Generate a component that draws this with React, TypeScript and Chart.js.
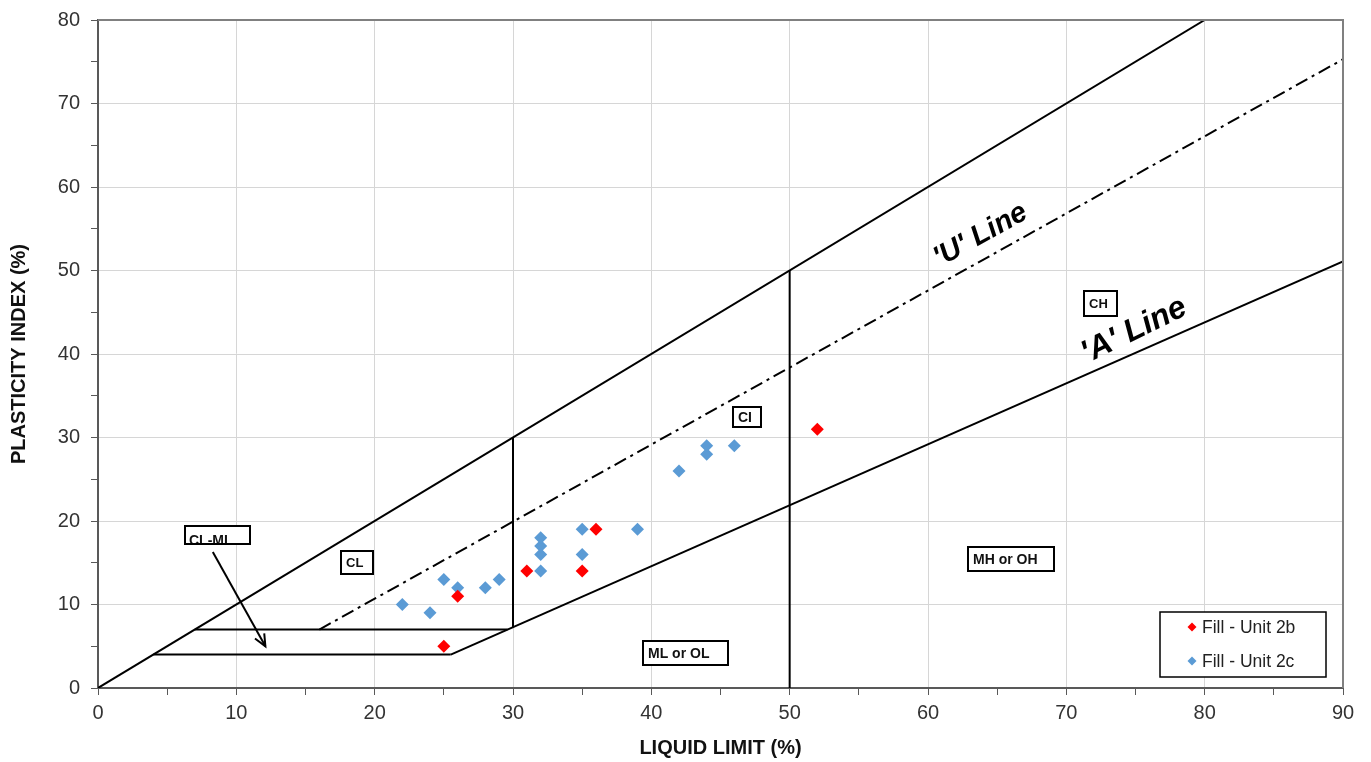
import React, { useEffect, useRef } from "react";
import { Chart, registerables } from "chart.js";

Chart.register(...registerables);

// ---- data ----
const unit2bLL = [25, 26, 31, 35, 36, 52];
const unit2bPI = [5, 11, 14, 14, 19, 31];
const unit2cLL = [22, 24, 25, 26, 28, 29, 32, 32, 32, 32, 35, 35, 39, 42, 44, 44, 46];
const unit2cPI = [10, 9, 13, 12, 12, 13, 14, 16, 17, 18, 16, 19, 19, 26, 28, 29, 29];

const upperLine = [[0, 0], [80, 80]];
const uLine = [[16, 7], [90, 75.3]];
const aLine = [[25.5, 4], [90, 51.1]];
const pi4Line = [[4, 4], [25.5, 4]];
const pi7Line = [[7, 7], [29.6, 7]];
const ll30Line = [[30, 7.3], [30, 30]];
const ll50Line = [[50, 0], [50, 50]];
const arrowLine = [[8.3, 16.3], [12.1, 5.0]];

const xTickLabels = [0, 10, 20, 30, 40, 50, 60, 70, 80, 90];
const yTickLabels = [0, 10, 20, 30, 40, 50, 60, 70, 80];

const zoneNames = ["CL-ML", "CL", "CI", "CH", "MH or OH", "ML or OL"];
const zoneLL = [6.3, 17.6, 45.9, 71.3, 62.9, 39.4];
const zonePI = [19.4, 16.4, 33.6, 47.5, 16.9, 5.6];

const lineNames = ["'U' Line", "'A' Line"];
const lineNameLL = [63.8, 74.9];
const lineNamePI = [54.2, 42.8];

const seriesNames = ["Fill - Unit 2b", "Fill - Unit 2c"];

// ---- styles ----
const RED = "#ff0000";
const BLUE = "#5b9bd5";
const FONT = '"Liberation Sans", Arial, sans-serif';
const zoneBox = [
  { w: 65, h: 18, size: 14, clipBottom: true },
  { w: 32, h: 23, size: 13 },
  { w: 28, h: 20, size: 14 },
  { w: 33, h: 25, size: 13 },
  { w: 86, h: 24, size: 14 },
  { w: 85, h: 24, size: 14 },
];

const toXY = (pts: number[][]) => pts.map(([x, y]) => ({ x, y }));

const lineDs = (pts: number[][], dash?: number[]) => ({
  type: "scatter" as const,
  data: toXY(pts),
  showLine: true,
  borderColor: "#000",
  borderWidth: 2,
  borderDash: dash || [],
  pointRadius: 0,
  pointHoverRadius: 0,
  fill: false,
  tension: 0,
  order: 2,
});

const overlayPlugin = {
  id: "overlay",
  afterDatasetsDraw(chart: any) {
    const { ctx, chartArea: ca, scales } = chart;
    const xs = scales.x;
    const ys = scales.y;
    const px = (v: number) => xs.getPixelForValue(v);
    const py = (v: number) => ys.getPixelForValue(v);
    ctx.save();

    // frame top/right
    ctx.strokeStyle = "#808080";
    ctx.lineWidth = 2;
    ctx.beginPath();
    ctx.moveTo(ca.left, ca.top);
    ctx.lineTo(ca.right, ca.top);
    ctx.lineTo(ca.right, ca.bottom);
    ctx.stroke();

    // arrowhead
    const ax0 = px(arrowLine[0][0]), ay0 = py(arrowLine[0][1]);
    const ax1 = px(arrowLine[1][0]), ay1 = py(arrowLine[1][1]);
    const ang = Math.atan2(ay1 - ay0, ax1 - ax0);
    const hl = 13, spread = 0.42;
    ctx.strokeStyle = "#000";
    ctx.lineWidth = 2;
    ctx.beginPath();
    ctx.moveTo(ax1 - hl * Math.cos(ang - spread), ay1 - hl * Math.sin(ang - spread));
    ctx.lineTo(ax1, ay1);
    ctx.lineTo(ax1 - hl * Math.cos(ang + spread), ay1 - hl * Math.sin(ang + spread));
    ctx.stroke();

    // zone label boxes
    zoneNames.forEach((name, i) => {
      const b = zoneBox[i];
      const bx = Math.round(px(zoneLL[i]));
      const by = Math.round(py(zonePI[i]));
      ctx.fillStyle = "#fff";
      ctx.fillRect(bx, by, b.w, b.h);
      ctx.fillStyle = "#111";
      ctx.font = `bold ${b.size}px ${FONT}`;
      ctx.textAlign = "left";
      if (b.clipBottom) {
        ctx.textBaseline = "alphabetic";
        ctx.fillText(name, bx + 4, by + b.h + 1);
      } else {
        ctx.textBaseline = "middle";
        ctx.fillText(name, bx + 5, by + b.h / 2 + 1);
      }
      ctx.strokeStyle = "#000";
      ctx.lineWidth = 2;
      ctx.strokeRect(bx, by, b.w, b.h);
    });

    // rotated line names
    const refs = [uLine, aLine];
    lineNames.forEach((name, i) => {
      const r = refs[i];
      const a = Math.atan2(py(r[1][1]) - py(r[0][1]), px(r[1][0]) - px(r[0][0]));
      ctx.save();
      ctx.translate(px(lineNameLL[i]), py(lineNamePI[i]));
      ctx.rotate(a - (i === 1 ? 0.04 : 0));
      ctx.font = `italic bold ${i === 0 ? 29 : 32}px ${FONT}`;
      ctx.fillStyle = "#000";
      ctx.textAlign = "center";
      ctx.textBaseline = "middle";
      ctx.fillText(name, 0, 0);
      ctx.restore();
    });

    // legend
    const lw = 166, lh = 65;
    const lx = ca.right - 17 - lw;
    const ly = ca.bottom - 11 - lh;
    ctx.fillStyle = "#fff";
    ctx.fillRect(lx, ly, lw, lh);
    ctx.strokeStyle = "#000";
    ctx.lineWidth = 1.5;
    ctx.strokeRect(lx, ly, lw, lh);
    const colors = [RED, BLUE];
    seriesNames.forEach((name, i) => {
      const cy = ly + 15 + i * 34;
      const cx = lx + 32;
      const r = 4.5;
      ctx.fillStyle = colors[i];
      ctx.beginPath();
      ctx.moveTo(cx - r, cy);
      ctx.lineTo(cx, cy - r);
      ctx.lineTo(cx + r, cy);
      ctx.lineTo(cx, cy + r);
      ctx.closePath();
      ctx.fill();
      ctx.fillStyle = "#222";
      ctx.font = `17.5px ${FONT}`;
      ctx.textAlign = "left";
      ctx.textBaseline = "middle";
      ctx.fillText(name, cx + 10, cy + 1);
    });

    ctx.restore();
  },
};

export default function App() {
  const ref = useRef<HTMLCanvasElement | null>(null);

  useEffect(() => {
    if (!ref.current) return;
    Chart.defaults.font.family = FONT;
    const gridColor = (c: any) =>
      c.tick && Math.abs(c.tick.value % 10) < 1e-6 ? "#d6d6d6" : "rgba(0,0,0,0)";
    const chart = new Chart(ref.current, {
      type: "scatter",
      data: {
        datasets: [
          {
            label: seriesNames[0],
            data: unit2bLL.map((v, i) => ({ x: v, y: unit2bPI[i] })),
            pointStyle: "rectRot",
            pointRadius: 6.5,
            backgroundColor: RED,
            borderColor: RED,
            borderWidth: 0,
            order: 0,
          },
          {
            label: seriesNames[1],
            data: unit2cLL.map((v, i) => ({ x: v, y: unit2cPI[i] })),
            pointStyle: "rectRot",
            pointRadius: 6.5,
            backgroundColor: BLUE,
            borderColor: BLUE,
            borderWidth: 0,
            order: 1,
          },
          lineDs(upperLine),
          lineDs(uLine, [13, 5, 3, 5]),
          lineDs(aLine),
          lineDs(pi4Line),
          lineDs(pi7Line),
          lineDs(ll30Line),
          lineDs(ll50Line),
          lineDs(arrowLine),
        ] as any,
      },
      options: {
        responsive: false,
        animation: false,
        events: [],
        layout: { autoPadding: false, padding: { top: 20, right: 28, left: 0, bottom: 0 } },
        plugins: { legend: { display: false }, tooltip: { enabled: false } },
        scales: {
          x: {
            type: "linear",
            min: 0,
            max: 90,
            afterFit: (s: any) => {
              s.height = 74;
              s.paddingTop = 0;
              s.paddingBottom = 0;
              s.paddingLeft = 0;
              s.paddingRight = 0;
            },
            ticks: {
              stepSize: 5,
              autoSkip: false,
              maxRotation: 0,
              padding: 6,
              color: "#333",
              font: { size: 20 },
              callback: (v: any) => (xTickLabels.includes(Number(v)) ? String(v) : ""),
            },
            grid: { color: gridColor, tickColor: "#595959", tickLength: 7, lineWidth: 1 },
            border: { color: "#595959", width: 2 },
            title: {
              display: true,
              text: "LIQUID LIMIT (%)",
              color: "#111",
              font: { size: 20, weight: "bold" },
              padding: { top: 0, bottom: 2 },
            },
          },
          y: {
            type: "linear",
            min: 0,
            max: 80,
            afterFit: (s: any) => {
              s.width = 98;
              s.paddingTop = 0;
              s.paddingBottom = 0;
              s.paddingLeft = 0;
              s.paddingRight = 0;
            },
            ticks: {
              stepSize: 5,
              autoSkip: false,
              padding: 11,
              color: "#333",
              font: { size: 20 },
              callback: (v: any) => (yTickLabels.includes(Number(v)) ? String(v) : ""),
            },
            grid: { color: gridColor, tickColor: "#595959", tickLength: 7, lineWidth: 1 },
            border: { color: "#595959", width: 2 },
            title: {
              display: true,
              text: "PLASTICITY INDEX (%)",
              color: "#111",
              font: { size: 20, weight: "bold" },
              padding: { top: 7, bottom: 0 },
            },
          },
        },
      },
      plugins: [overlayPlugin],
    } as any);
    return () => chart.destroy();
  }, []);

  return (
    <div style={{ position: "fixed", left: 0, top: 0, width: 1371, height: 762, background: "#fff" }}>
      <canvas ref={ref} width={1371} height={762} style={{ width: 1371, height: 762, display: "block" }} />
    </div>
  );
}
